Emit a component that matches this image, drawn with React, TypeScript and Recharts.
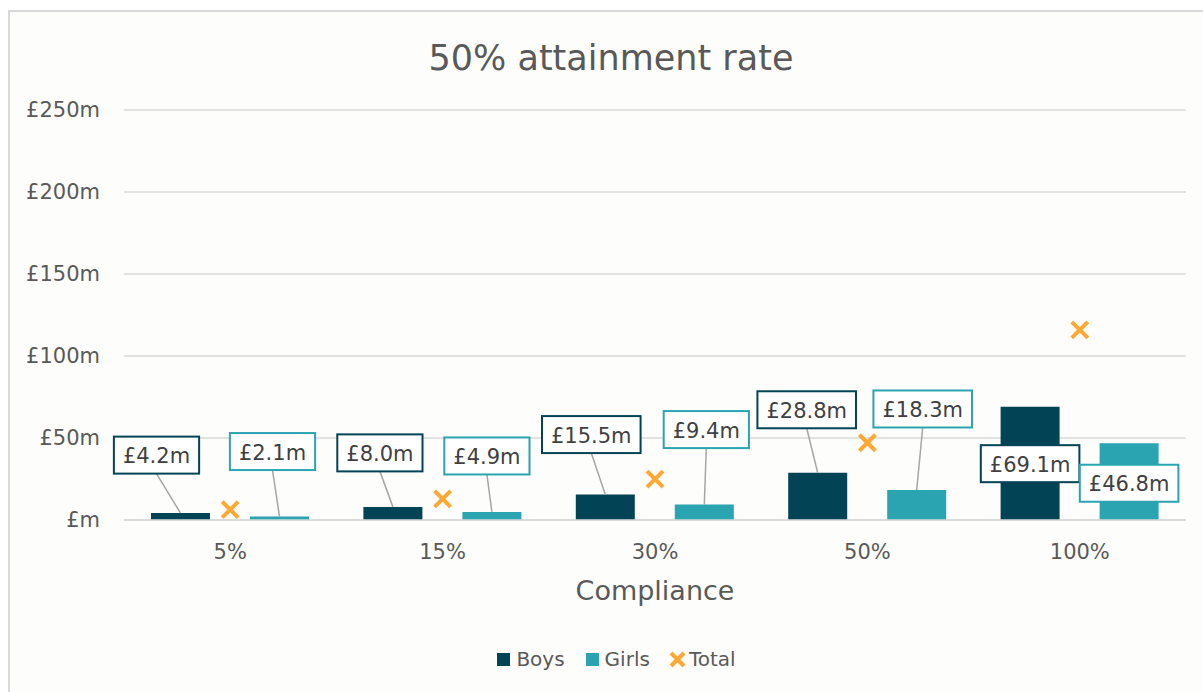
import { ComposedChart, Bar, Line, XAxis, YAxis, CartesianGrid, Legend, LabelList } from 'recharts';

const compliance = ['5%', '15%', '30%', '50%', '100%'];
const boys = [4.2, 8.0, 15.5, 28.8, 69.1];
const girls = [2.1, 4.9, 9.4, 18.3, 46.8];
const total = [6.3, 12.9, 24.9, 47.1, 115.9];
const yTicks = [0, 50, 100, 150, 200, 250];

// hand-placed callouts, offset of box centre from the top of the bar
const boysNudge = [[-24, -58], [-13, -54], [-14, -60], [-11, -63], [0, 57]];
const girlsNudge = [[-7, -65], [-5, -56], [2, -75], [6, -81], [0, 40]];

const FONT = "'DejaVu Sans', sans-serif";
const BOYS = '#024355';
const GIRLS = '#2aa4b0';
const TOTAL = '#ffa734';
const GREY = '#595959';

const data = compliance.map((c, i) => ({ name: c, boys: boys[i], girls: girls[i], total: total[i] }));

const money = (v: number) => (v === 0 ? '£m' : `£${v}m`);

let ctx: CanvasRenderingContext2D | null = null;
function textWidth(s: string) {
	if (!ctx) ctx = document.createElement('canvas').getContext('2d');
	if (!ctx) return s.length * 13;
	ctx.font = `21px ${FONT}`;
	return ctx.measureText(s).width;
}

function callout(nudge: number[][], border: string) {
	return (props: any) => {
		const { index, value } = props;
		const vb = props.viewBox ?? props;
		const cx = vb.x + vb.width / 2;
		const top = vb.y;
		const [dx, dy] = nudge[index];
		const text = `£${Number(value).toFixed(1)}m`;
		const w = textWidth(text) + 18;
		const h = 37;
		const bx = cx + dx - w / 2;
		const by = top + dy - h / 2;
		const leader = by + h < top - 4;
		return (
			<g key={`co-${index}`}>
				{leader && <line x1={cx + dx} y1={by + h} x2={cx} y2={top} stroke="#a6a6a6" strokeWidth={1.5} />}
				<rect x={bx} y={by} width={w} height={h} fill="#fff" stroke={border} strokeWidth={2} />
				<text x={cx + dx} y={by + h / 2 + 1} textAnchor="middle" dominantBaseline="central" fontSize={21} fontFamily={FONT} fill="#404040">
					{text}
				</text>
			</g>
		);
	};
}

const XMark = ({ cx, cy, size = 8 }: any) => (
	<g>
		<line x1={cx - size} y1={cy - size} x2={cx + size} y2={cy + size} stroke={TOTAL} strokeWidth={4} />
		<line x1={cx - size} y1={cy + size} x2={cx + size} y2={cy - size} stroke={TOTAL} strokeWidth={4} />
	</g>
);

const LegendBox = () => (
	<div style={{ display: 'flex', justifyContent: 'center', alignItems: 'center', paddingLeft: 30, fontFamily: FONT, fontSize: 20, color: GREY, height: 24 }}>
		<span style={{ width: 13, height: 13, background: BOYS, marginRight: 6 }} />
		<span style={{ marginRight: 21 }}>Boys</span>
		<span style={{ width: 13, height: 13, background: GIRLS, marginRight: 6 }} />
		<span style={{ marginRight: 19 }}>Girls</span>
		<svg width={17} height={17} style={{ marginRight: 3 }}>
			<XMark cx={8.5} cy={8.5} size={6.5} />
		</svg>
		<span>Total</span>
	</div>
);

export default function App() {
	return (
		<div style={{ position: 'absolute', left: 0, top: 0, width: 1203, height: 692, overflow: 'hidden', background: '#fff', fontFamily: FONT }}>
			<div style={{ position: 'absolute', left: 8, top: 10, width: 1230, height: 720, borderLeft: '2px solid #d9d9d9', borderTop: '2px solid #d9d9d9', background: '#fdfdfc' }} />
			<div style={{ position: 'absolute', left: 0, top: 41, width: 1222, textAlign: 'center', fontSize: 35, lineHeight: '35px', color: GREY }}>
				50% attainment rate
			</div>
			<div style={{ position: 'absolute', left: 0, top: 0 }}>
				<ComposedChart width={1203} height={692} data={data} margin={{ top: 110, right: 17, bottom: 92, left: 0 }} barSize={59} barGap={40}>
					<CartesianGrid vertical={false} stroke="#d9d9d9" strokeWidth={1.5} />
					<XAxis
						dataKey="name"
						height={80}
						axisLine={{ stroke: '#d9d9d9', strokeWidth: 1.5 }}
						tickLine={false}
						tickSize={0}
						tickMargin={24}
						tick={{ fill: GREY, fontSize: 21, fontFamily: FONT }}
						label={{ value: 'Compliance', position: 'insideBottom', offset: 0, fill: GREY, fontSize: 27, fontFamily: FONT }}
					/>
					<YAxis
						width={124}
						domain={[0, 250]}
						ticks={yTicks}
						axisLine={false}
						tickLine={false}
						tickSize={0}
						tickMargin={24}
						tickFormatter={money}
						tick={{ fill: GREY, fontSize: 21, fontFamily: FONT }}
					/>
					<Legend verticalAlign="middle" align="center" layout="horizontal" wrapperStyle={{ top: 647, left: 0, width: 1203 }} content={<LegendBox />} />
					<Bar dataKey="boys" name="Boys" fill={BOYS} isAnimationActive={false}>
						<LabelList dataKey="boys" content={callout(boysNudge, BOYS)} />
					</Bar>
					<Bar dataKey="girls" name="Girls" fill={GIRLS} isAnimationActive={false}>
						<LabelList dataKey="girls" content={callout(girlsNudge, GIRLS)} />
					</Bar>
					<Line
						dataKey="total"
						name="Total"
						stroke="none"
						isAnimationActive={false}
						activeDot={false}
						dot={(p: any) => <XMark key={`x-${p.index}`} cx={p.cx} cy={p.cy} />}
					/>
				</ComposedChart>
			</div>
		</div>
	);
}
